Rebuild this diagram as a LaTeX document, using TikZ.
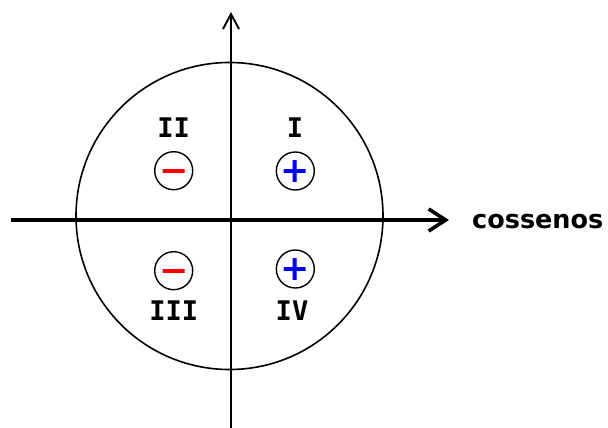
\documentclass[tikz,border=0pt]{standalone}
\usepackage{fontspec}
\usetikzlibrary{arrows.meta}
\newfontfamily\signfont{DejaVu Sans}
\newfontfamily\romanfont{DejaVu Sans Mono}
\definecolor{signred}{RGB}{255,0,0}
\definecolor{signblue}{RGB}{0,0,255}
\newcommand{\signsym}[1]{\raisebox{-0.33em}[0pt][0pt]{#1}}
\tikzset{
	quadlabel/.style={inner sep=0pt, font=\romanfont\bfseries\fontsize{27}{30}\selectfont},
	signring/.style={draw, circle, line width=1.4pt, minimum size=38pt, inner sep=0pt,
		font=\signfont\bfseries\fontsize{35}{35}\selectfont},
}
\begin{document}
\begin{tikzpicture}[x=1pt, y=-1pt]
		\useasboundingbox (0,0) rectangle (608,428);

		% unit circle and axes
		\node[draw, circle, line width=1.6pt, minimum size=307pt, inner sep=0pt] (unit) at (229.5,216) {};
		\coordinate (xl) at (11,220);
		\coordinate (xr) at (449,220);
		\coordinate (yb) at (231,432);
		\coordinate (yt) at (231,12);
		\draw[line width=3.6pt, -{Straight Barb[length=17pt,width=22pt]}] (xl) -- (xr);
		\draw[line width=1.9pt, -{Straight Barb[length=15pt,width=16pt]}] (yb) -- (yt);
		\node[anchor=west, inner sep=0pt, font=\signfont\bfseries\fontsize{25.5}{30}\selectfont] (cos) at (472,222) {cossenos};

		% quadrants
		\node[quadlabel] (qI) at (295,128) {I};
		\node[quadlabel] (qII) at (173.7,128) {II};
		\node[quadlabel] (qIII) at (173.7,310.7) {III};
		\node[quadlabel] (qIV) at (292,310.7) {IV};

		\node[signring, text=signblue] (sI) at (295.3,171) {\signsym{+}};
		\node[signring, text=signred] (sII) at (173.7,170.7) {\signsym{−}};
		\node[signring, text=signred] (sIII) at (173.7,270.7) {\signsym{−}};
		\node[signring, text=signblue] (sIV) at (295.3,269) {\signsym{+}};

	\end{tikzpicture}
\end{document}
